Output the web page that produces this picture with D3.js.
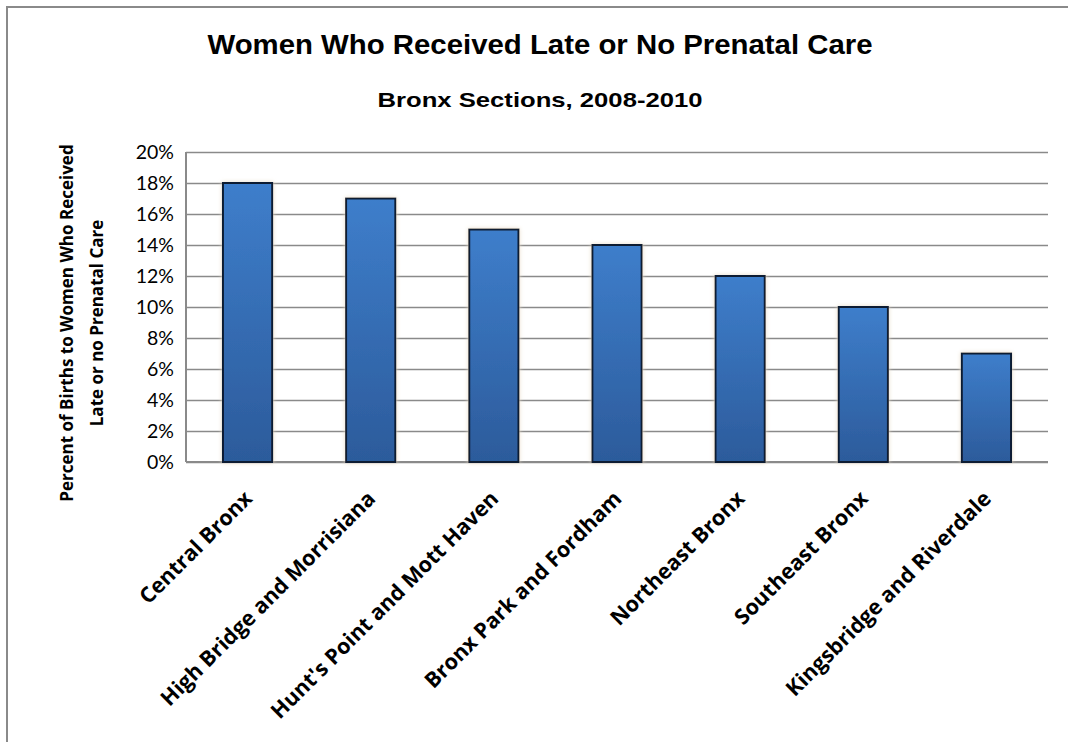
<!DOCTYPE html>
<html>
<head>
<meta charset="utf-8">
<script src="https://cdn.jsdelivr.net/npm/d3@7"></script>
<style>
  html, body { margin: 0; padding: 0; background: #fff; }
  svg { display: block; }
</style>
</head>
<body>
<svg id="chart" width="1068" height="742"></svg>
<script>
// Bronx sections and share of births with late or no prenatal care (%)
const sections = [
  "Central Bronx",
  "High Bridge and Morrisiana",
  "Hunt's Point and Mott Haven",
  "Bronx Park and Fordham",
  "Northeast Bronx",
  "Southeast Bronx",
  "Kingsbridge and Riverdale"
];
const lateCarePct = [18, 17, 15, 14, 12, 10, 7];
const yTicks = [0, 2, 4, 6, 8, 10, 12, 14, 16, 18, 20];

const svg = d3.select("#chart");
const W = 1068, H = 742;
const plot = { left: 186, right: 1048, top: 152, bottom: 462 };
const tickFont = "Lato, 'Open Sans', 'Liberation Sans', sans-serif";
const labelFont = "'Open Sans', 'Liberation Sans', sans-serif";
const titleFont = "'Liberation Sans', Arial, sans-serif";

// Outer chart frame (runs off the right and bottom edges)
svg.append("rect")
  .attr("x", 7).attr("y", 7)
  .attr("width", W + 10).attr("height", H + 10)
  .attr("fill", "none").attr("stroke", "#8a8a8a").attr("stroke-width", 2);

const x = d3.scaleBand()
  .domain(sections)
  .range([plot.left, plot.right])
  .paddingInner(0.6).paddingOuter(0.3);

const y = d3.scaleLinear().domain([0, 20]).range([plot.bottom, plot.top]);

// Bar gradient and soft halo
const defs = svg.append("defs");
const grad = defs.append("linearGradient").attr("id", "barGrad")
  .attr("x1", 0).attr("y1", 0).attr("x2", 0).attr("y2", 1);
grad.append("stop").attr("offset", "0%").attr("stop-color", "#3e7ecb");
grad.append("stop").attr("offset", "100%").attr("stop-color", "#2c5b9b");
const soft = defs.append("filter").attr("id", "soft")
  .attr("x", "-20%").attr("y", "-5%").attr("width", "140%").attr("height", "110%");
soft.append("feGaussianBlur").attr("in", "SourceAlpha").attr("stdDeviation", 2).attr("result", "b");
soft.append("feFlood").attr("flood-color", "#e8dcc8").attr("result", "c");
soft.append("feComposite").attr("in", "c").attr("in2", "b").attr("operator", "in").attr("result", "s");
const fm = soft.append("feMerge");
fm.append("feMergeNode").attr("in", "s");
fm.append("feMergeNode").attr("in", "SourceGraphic");

// Gridlines and value axis
const yAxis = d3.axisLeft(y).tickValues(yTicks).tickFormat(d => d + "%")
  .tickSize(-(plot.right - plot.left)).tickPadding(12);
const yg = svg.append("g").attr("transform", `translate(${plot.left},0)`).call(yAxis);
yg.select(".domain").remove();
yg.selectAll(".tick line").attr("stroke", "#8a8a8a").attr("stroke-width", 1.5);
yg.selectAll(".tick text")
  .attr("font-family", tickFont)
  .attr("font-size", 19.5).attr("fill", "#000");

// Axis lines
svg.append("line").attr("x1", plot.left).attr("x2", plot.left)
  .attr("y1", plot.top).attr("y2", plot.bottom)
  .attr("stroke", "#8a8a8a").attr("stroke-width", 2);
svg.append("line").attr("x1", plot.left).attr("x2", plot.right)
  .attr("y1", plot.bottom).attr("y2", plot.bottom)
  .attr("stroke", "#8a8a8a").attr("stroke-width", 2);

// Bars
svg.append("g").selectAll("rect")
  .data(sections.map((s, i) => ({ s, v: lateCarePct[i] })))
  .join("rect")
  .attr("x", d => x(d.s))
  .attr("y", d => y(d.v))
  .attr("width", x.bandwidth())
  .attr("height", d => y(0) - y(d.v))
  .attr("fill", "url(#barGrad)")
  .attr("stroke", "#0f1c33").attr("stroke-width", 2)
  .attr("filter", "url(#soft)");

// Category labels, rotated
const xg = svg.append("g").attr("transform", `translate(0,${plot.bottom})`)
  .call(d3.axisBottom(x).tickSize(0).tickPadding(0));
xg.select(".domain").remove();
xg.selectAll(".tick text")
  .attr("font-family", labelFont)
  .attr("font-weight", "bold").attr("font-size", 21.5).attr("fill", "#000")
  .attr("text-anchor", "end")
  .attr("dy", 0)
  .attr("transform", "translate(6,38) rotate(-45)");

// Titles
svg.append("text").attr("x", 540).attr("y", 54)
  .attr("text-anchor", "middle")
  .attr("font-family", titleFont)
  .attr("font-weight", "bold").attr("font-size", 28)
  .attr("textLength", 665).attr("lengthAdjust", "spacingAndGlyphs")
  .text("Women Who Received Late or No Prenatal Care");
svg.append("text").attr("x", 540).attr("y", 107)
  .attr("text-anchor", "middle")
  .attr("font-family", titleFont)
  .attr("font-weight", "bold").attr("font-size", 21)
  .attr("textLength", 325).attr("lengthAdjust", "spacingAndGlyphs")
  .text("Bronx Sections, 2008-2010");

// Value axis title (two lines)
const yt = svg.append("text")
  .attr("transform", "rotate(-90)")
  .attr("text-anchor", "middle")
  .attr("font-family", labelFont)
  .attr("font-weight", "bold").attr("font-size", 17);
yt.append("tspan").attr("x", -323).attr("y", 73)
  .text("Percent of Births to Women Who Received");
yt.append("tspan").attr("x", -323).attr("y", 103)
  .text("Late or no Prenatal Care");
</script>
</body>
</html>
